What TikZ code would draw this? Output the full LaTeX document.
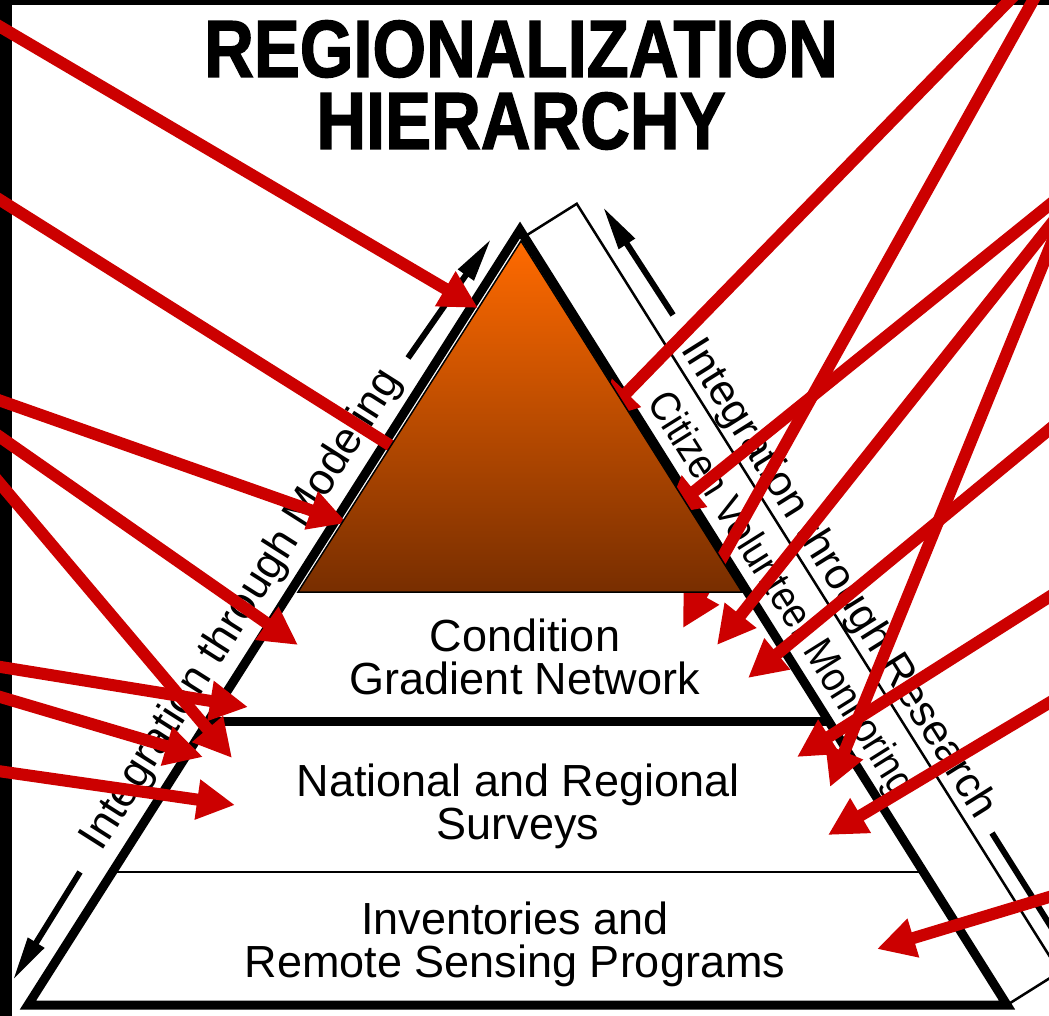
\documentclass[tikz,border=0pt]{standalone}
\usepackage{fontspec}
\setmainfont{Liberation Sans}
\newfontfamily\headfont{Liberation Sans}[FakeStretch=0.85, BoldFeatures={FakeBold=1.6}]
\newfontfamily\bandfont{Liberation Sans}[FakeStretch=0.89]
\usetikzlibrary{calc,arrows.meta}
\definecolor{alertred}{HTML}{CC0000}
\definecolor{peakorange}{HTML}{FF6A00}
\definecolor{peakbrown}{HTML}{782E00}

\begin{document}
\begin{tikzpicture}[x=1pt, y=-1pt,
	pointer/.style={draw=alertred, line width=12pt, -{Triangle[length=38pt, width=38pt]}},
	flow/.style={line width=6pt, -{Triangle[length=44pt, width=18pt]}},
	tier/.style={font=\fontsize{45}{43}\selectfont, align=center, inner sep=0pt},
	sidelabel/.style={font=\fontsize{44}{44}\selectfont, inner sep=0pt}]
	\clip (0,0) rectangle (1049,1016);
	\fill[white] (0,0) rectangle (1049,1016);
	\fill[black] (0,0) rectangle (12,1016);
	\fill[black] (0,0) rectangle (1049,5);
	\coordinate (top) at (520,230);
	\coordinate (bl) at (28,1005);
	\coordinate (br) at (1007,1005);
	\coordinate (midL) at ($(bl)!0.3652!(top)$);
	\coordinate (midR) at ($(br)!0.3652!(top)$);
	\coordinate (lowL) at ($(bl)!0.1716!(top)$);
	\coordinate (lowR) at ($(br)!0.1716!(top)$);
	\coordinate (bandA) at ($(top)!8pt!(br)$);
	\coordinate (bandB) at ($(bandA)+(52.5,-33)$);
	\coordinate (bandC) at ($(br)+(52.5,-33)$);
	\draw[line width=2.5pt] (bandA) -- (bandB) -- (bandC) -- (br);
	\draw[line width=2.5pt] (lowL) -- (lowR);
	\draw[line width=9pt] (midL) -- (midR);
	\draw[line width=9pt, line join=miter] (top) -- (bl) -- (br) -- cycle;
	\coordinate (modUp1) at (408,358);
	\coordinate (modUp2) at (491,239);
	\coordinate (modDn1) at (80,872);
	\coordinate (modDn2) at (13,980);
	\coordinate (resUp1) at (673,315);
	\coordinate (resUp2) at (603,207);
	\coordinate (resDn1) at (992,833);
	\coordinate (resDn2) at (1092,992);
	\draw[flow] (modUp1) -- (modUp2);
	\draw[flow] (modDn1) -- (modDn2);
	\draw[flow] (resUp1) -- (resUp2);
	\draw[flow] (resDn1) -- (resDn2);
	\node[font=\headfont\bfseries\fontsize{81}{72}\selectfont, align=center, inner sep=0pt] (title) at (521,85) {REGIONALIZATION\\HIERARCHY};
	\node[tier] (cgn) at (525,657) {Condition\\Gradient Network};
	\node[tier] (nrs) at (518,806) {National and Regional\\Surveys};
	\node[tier] (irs) at (515,944) {Inventories and\\Remote Sensing Programs};
	\node[sidelabel, rotate=57.6] (modeling) at (242,610) {Integration through Modeling};
	\node[sidelabel, font=\bandfont\fontsize{42}{42}\selectfont, rotate=-57.9] (citizen) at (780,595) {Citizen Volunteer Monitoring};
	\node[sidelabel, font=\fontsize{43}{43}\selectfont, rotate=-57.9] (research) at (838,579) {Integration through Research};
	\foreach \n/\sx/\sy/\tx/\ty in {
		a1/-30/9/478/308, a2/-30/181/450/483, a3/-30/390/347/523, a4/-30/416/298/645,
		a5/-30/448/232/758, a6/-30/662/248/707, a7/-30/688/203/757, a8/-30/767/235/805,
		b1/1039/-30/600/420, b2/1050/-30/683/628, b3/1079/181/665/515, b4/1079/189/717/645,
		b5/1079/405/748/678, b6/1079/578/797/757, b7/1079/685/828/835, b8/1079/888/877/949,
		b9/1079/176/830/787}{
		\coordinate (from\n) at (\sx,\sy);
		\coordinate (to\n) at (\tx,\ty);
		\draw[pointer] (from\n) -- (to\n);
	}
	\shade[top color=peakorange, bottom color=peakbrown, draw=black, line width=1.5pt] (521,241) -- (298,592) -- (742,592) -- cycle;
\end{tikzpicture}
\end{document}
